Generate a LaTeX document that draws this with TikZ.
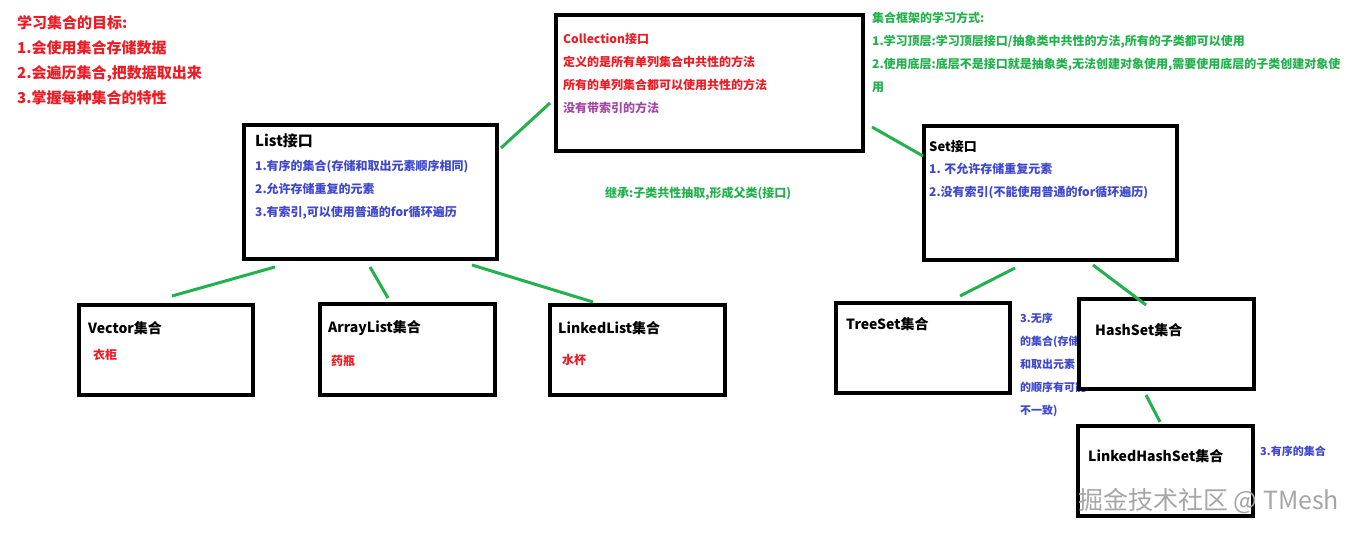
\documentclass[tikz,border=0pt]{standalone}
\usepackage{fontspec}
\setmainfont{Noto Sans CJK SC}
\usetikzlibrary{arrows.meta,calc}
\definecolor{goalred}{HTML}{ED1C24}
\definecolor{noteblue}{HTML}{3F48CC}
\definecolor{notegreen}{HTML}{22B14C}
\definecolor{notepurple}{HTML}{A349A4}
\definecolor{linkgreen}{HTML}{22B14C}

\begin{document}
\begin{tikzpicture}[x=1pt,y=-1pt,>=Latex,
 box/.style={draw,line width=4pt,anchor=north west,inner sep=0pt},
 txt/.style={anchor=base west,inner sep=0pt,align=left,font=\bfseries\fontsize{12}{23}\selectfont},
 big/.style={font=\bfseries\fontsize{15}{25}\selectfont},
 ttl/.style={font=\bfseries\fontsize{14}{20}\selectfont},
 small/.style={font=\bfseries\fontsize{11}{23}\selectfont},
 link/.style={line width=3pt,color=linkgreen}]
 \useasboundingbox[fill=white] (0,0) rectangle (1360,534);
 % notes at the top (multi-line nodes sit on their last baseline)
 \node[txt,big,goalred] (goal) at (17,104) {学习集合的目标:\\1.会使用集合存储数据\\2.会遍历集合,把数据取出来\\3.掌握每种集合的特性};
 \node[txt,notegreen] (way) at (872,92) {集合框架的学习方式:\\1.学习顶层:学习顶层接口/抽象类中共性的方法,所有的子类都可以使用\\2.使用底层:底层不是接口就是抽象类,无法创建对象使用,需要使用底层的子类创建对象使\\用};
 \node[txt,font=\bfseries\fontsize{12}{23}\selectfont,notegreen] (inherit) at (605,198) {继承:子类共性抽取,形成父类(接口)};
 % interfaces
 \node[box,minimum width=307pt,minimum height=136pt] (coll) at (554,13) {};
 \node[txt,goalred] (collT) at ([shift={(9,100)}]coll.north west) {Collection接口\\定义的是所有单列集合中共性的方法\\所有的单列集合都可以使用共性的方法\\\textcolor{notepurple}{没有带索引的方法}};
 \node[box,minimum width=253pt,minimum height=134pt] (list) at (242,123) {};
 \node[txt,big] (listT) at ([shift={(13,24)}]list.north west) {List接口};
 \node[txt,noteblue] (listN) at ([shift={(13,94)}]list.north west) {1.有序的集合(存储和取出元素顺序相同)\\2.允许存储重复的元素\\3.有索引,可以使用普通的for循环遍历};
 \node[box,minimum width=253pt,minimum height=134pt] (set) at (922,124) {};
 \node[txt,font=\bfseries\fontsize{13}{20}\selectfont] (setT) at ([shift={(7,28)}]set.north west) {Set接口};
 \node[txt,noteblue] (setN) at ([shift={(7,73)}]set.north west) {1. 不允许存储重复元素\\2.没有索引(不能使用普通的for循环遍历)};
 % list classes
 \node[box,minimum width=174pt,minimum height=90pt] (vector) at (77,303) {};
 \node[txt,ttl] (vectorT) at ([shift={(11,31)}]vector.north west) {Vector集合};
 \node[txt,goalred] (vectorN) at ([shift={(16,57)}]vector.north west) {衣柜};
 \node[box,minimum width=175pt,minimum height=91pt] (arr) at (318,302) {};
 \node[txt,ttl] (arrT) at ([shift={(10,31)}]arr.north west) {ArrayList集合};
 \node[txt,goalred] (arrN) at ([shift={(13,64)}]arr.north west) {药瓶};
 \node[box,minimum width=175pt,minimum height=90pt] (linked) at (548,303) {};
 \node[txt,ttl] (linkedT) at ([shift={(10,31)}]linked.north west) {LinkedList集合};
 \node[txt,goalred] (linkedN) at ([shift={(14,62)}]linked.north west) {水杯};
 % set classes
 \node[box,minimum width=174pt,minimum height=90pt] (tree) at (834,301) {};
 \node[txt,ttl] (treeT) at ([shift={(12,29)}]tree.north west) {TreeSet集合};
 \node[txt,small,noteblue] (hashN) at ([shift={(8,113)}]tree.north east) {3.无序\\的集合(存储\\和取出元素\\的顺序有可能\\不一致)};
 \node[box,fill=white,minimum width=175pt,minimum height=90pt] (hash) at (1077,297) {};
 \node[txt,ttl] (hashT) at ([shift={(18,39)}]hash.north west) {HashSet集合};
 \node[box,minimum width=175pt,minimum height=90pt] (lhs) at (1076,424) {};
 \node[txt,ttl] (lhsT) at ([shift={(12,37)}]lhs.north west) {LinkedHashSet集合};
 \node[txt,small,noteblue] (lhsN) at ([shift={(5,31)}]lhs.north east) {3.有序的集合};
 % links
 \draw[link] ([shift={(2,25)}]list.north east) -- ([shift={(-4,90)}]coll.north west);
 \draw[link] ([shift={(7,114)}]coll.north east) -- ([shift={(1,32)}]set.north west);
 \draw[link] ([shift={(33,6)}]list.south west) -- ([shift={(95,-7)}]vector.north west);
 \draw[link] ([shift={(128,6)}]list.south west) -- ([shift={(70,-4)}]arr.north west);
 \draw[link] ([shift={(230,4)}]list.south west) -- ([shift={(45,-1)}]linked.north west);
 \draw[link] ([shift={(93,6)}]set.south west) -- ([shift={(126,-5)}]tree.north west);
 \draw[link] ([shift={(171,3)}]set.south west) -- ([shift={(69,8)}]hash.north west);
 \draw[link] ([shift={(69,4)}]hash.south west) -- ([shift={(84,-2)}]lhs.north west);
 % watermark
 \node[anchor=base west,inner sep=0pt,text=black!35,font=\fontsize{25}{25}\selectfont] (mark) at (1078,509) {掘金技术社区 @ TMesh};
\end{tikzpicture}
\end{document}
